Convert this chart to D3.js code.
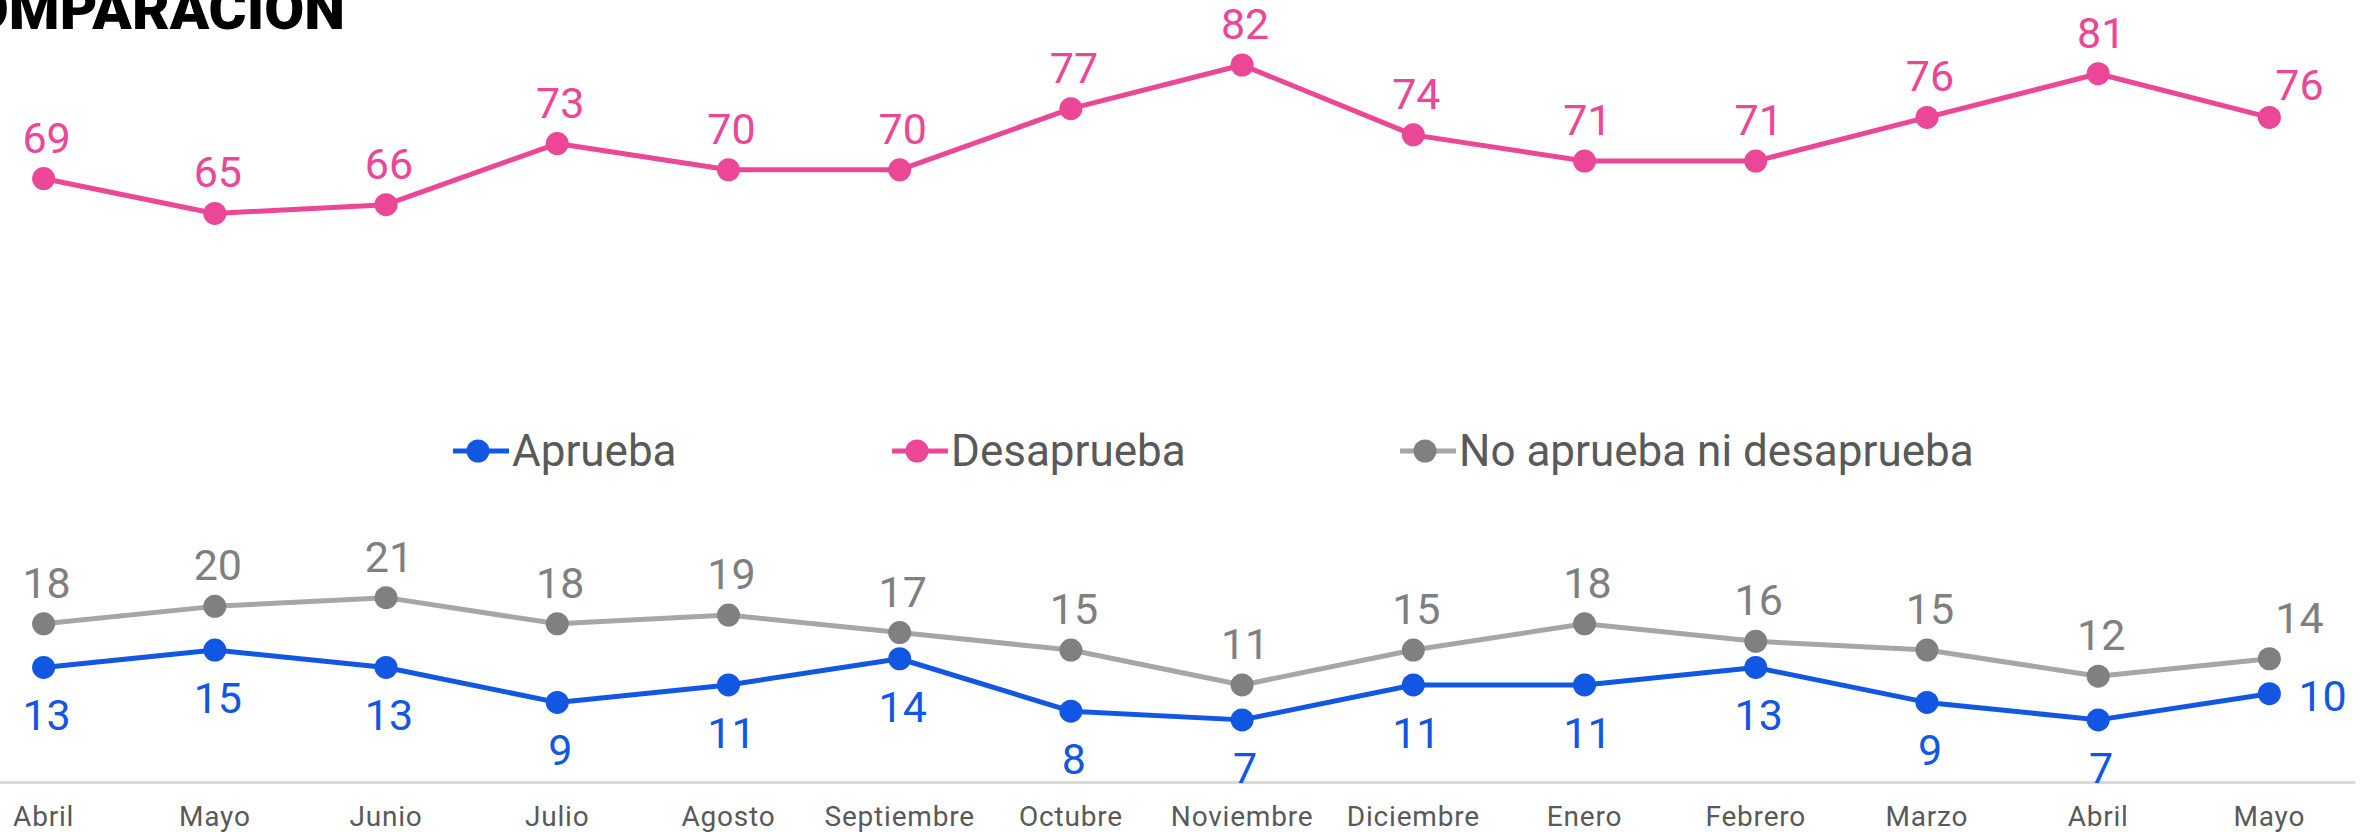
<!DOCTYPE html>
<html>
<head>
<meta charset="utf-8">
<script src="https://cdn.jsdelivr.net/npm/d3@7"></script>
<style>
  html, body { margin: 0; padding: 0; background: #ffffff; }
  svg { display: block; font-family: Roboto, "Noto Sans", sans-serif; }
</style>
</head>
<body>
<svg id="chart" width="2367" height="833"></svg>
<script>
// ---------- data ----------
const months = ["Abril", "Mayo", "Junio", "Julio", "Agosto", "Septiembre", "Octubre",
                "Noviembre", "Diciembre", "Enero", "Febrero", "Marzo", "Abril", "Mayo"];
const aprueba     = [13, 15, 13, 9, 11, 14, 8, 7, 11, 11, 13, 9, 7, 10];
const desaprueba  = [69, 65, 66, 73, 70, 70, 77, 82, 74, 71, 71, 76, 81, 76];
const neutral     = [18, 20, 21, 18, 19, 17, 15, 11, 15, 18, 16, 15, 12, 14];
const seriesNames = ["Aprueba", "Desaprueba", "No aprueba ni desaprueba"];
const titleText = "COMPARACION";

// ---------- styles ----------
const styles = [
  { values: aprueba,    line: "#1157E3", marker: "#1157E3", label: "#1157E3", pos: "below" },
  { values: desaprueba, line: "#EC4697", marker: "#EC4697", label: "#EC4697", pos: "above" },
  { values: neutral,    line: "#A6A6A6", marker: "#808080", label: "#7F7F7F", pos: "above" }
];

const svg = d3.select("#chart");

const idx = months.map((_, i) => i);
const x = d3.scaleBand().domain(idx).range([-42, 2355]).paddingInner(0).paddingOuter(0);
const cx = i => x(i) + x.bandwidth() / 2;
const y = d3.scaleLinear().domain([0, 82]).range([781, 65]);

// title (cut off at the top-left like the reference)
svg.append("text")
  .attr("x", 345).attr("y", 29)
  .attr("text-anchor", "end")
  .attr("font-size", 58).attr("font-weight", 900)
  .attr("fill", "#000")
  .text(titleText);

// x axis
const axis = d3.axisBottom(x).tickSize(0).tickPadding(24).tickFormat(i => months[i]);
const gAxis = svg.append("g").attr("transform", "translate(0,782)").call(axis);
gAxis.select(".domain").attr("stroke", "#D9D9D9").attr("stroke-width", 3);
gAxis.selectAll("text")
  .attr("font-size", 28).attr("fill", "#595959")
  .attr("letter-spacing", 0.8)
  .style("font-family", "Roboto, sans-serif");

// series
const line = d3.line().x((d, i) => cx(i)).y(d => y(d));

styles.slice().reverse().forEach(s => {
  const g = svg.append("g");
  g.append("path").datum(s.values)
    .attr("d", line).attr("fill", "none")
    .attr("stroke", s.line).attr("stroke-width", 5).attr("stroke-linejoin", "round");
  g.selectAll("circle").data(s.values).join("circle")
    .attr("cx", (d, i) => cx(i)).attr("cy", d => y(d)).attr("r", 11.5)
    .attr("fill", s.marker);
});

// labels
styles.forEach(s => {
  const n = s.values.length;
  svg.append("g").selectAll("text").data(s.values).join("text")
    .attr("font-size", 43).attr("fill", s.label)
    .attr("text-anchor", (d, i) => (s.pos === "below" && i === n - 1) ? "start" : "middle")
    .attr("x", (d, i) => {
      if (i === n - 1) return s.pos === "below" ? cx(i) + 29 : cx(i) + 30;
      return cx(i) + 3;
    })
    .attr("y", (d, i) => {
      if (s.pos === "below") return i === n - 1 ? y(d) + 17 : y(d) + 63;
      return i === n - 1 && s === styles[1] ? y(d) - 17 : y(d) - 26;
    })
    .text(d => d);
});

// legend
const legendX = [453, 892, 1400];
const legendY = 451;
seriesNames.forEach((name, k) => {
  const s = styles[k];
  const g = svg.append("g").attr("transform", `translate(${legendX[k]},${legendY})`);
  g.append("line").attr("x1", 0).attr("x2", 56).attr("y1", 0).attr("y2", 0)
    .attr("stroke", s.line).attr("stroke-width", 5);
  g.append("circle").attr("cx", 25).attr("cy", 0).attr("r", 11.5).attr("fill", s.marker);
  g.append("text").attr("x", 59).attr("y", 15)
    .attr("font-size", 44).attr("fill", "#595959").text(name);
});
</script>
</body>
</html>
